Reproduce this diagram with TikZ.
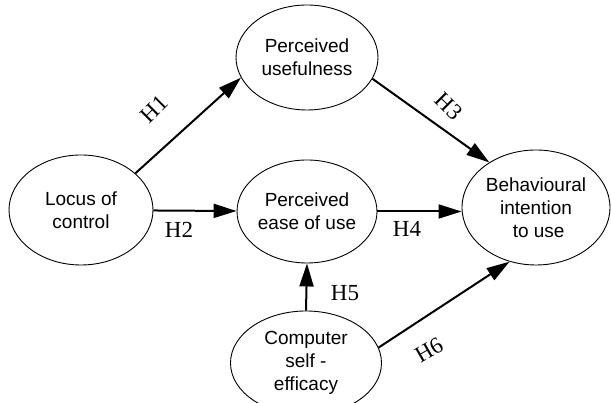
\documentclass[tikz,border=0pt]{standalone}
\usepackage{fontspec}
\setmainfont{Liberation Sans}
\newfontfamily\hfont{Liberation Serif}
\usetikzlibrary{shapes.geometric,arrows.meta}
\begin{document}
\begin{tikzpicture}[x=1pt,y=1pt,
  construct/.style={draw=black,line width=0.9pt,ellipse,inner sep=0pt,align=center,
    font=\fontsize{19}{23}\selectfont},
  path/.style={line width=2pt,-{Triangle[length=23pt,width=14pt]}},
  hlab/.style={font=\hfont\fontsize{23}{23}\selectfont,inner sep=0pt}]
\useasboundingbox (0,0) rectangle (611,403);
\clip (0,0) rectangle (611,403);
\node[construct,minimum width=142pt,minimum height=105pt] (pu) at (307,345.5) {Perceived\\usefulness};
\node[construct,minimum width=144pt,minimum height=110pt] (loc) at (81,193) {Locus of\\control};
\node[construct,minimum width=140pt,minimum height=103pt] (ease) at (307,191.5) {Perceived\\ease of use};
\node[construct,minimum width=148pt,minimum height=115pt] (bi) at (536,195.5) {Behavioural\\intention\\\ to use};
\node[construct,minimum width=151pt,minimum height=104pt] (cse) at (306,40) {Computer\\self -\\efficacy};
\draw[path] (loc.34.4) -- (pu.197.7);
\draw[path] (loc) -- (ease);
\draw[path] (pu.-18.7) -- (bi.136.5);
\draw[path] (ease.east) -- (ease.east -| bi.west);
\draw[path] (cse.north) -- (ease.south);
\draw[path] (cse.12.8) -- (bi.244);
\node[hlab,rotate=45] (h1) at (154,294) {H1};
\node[hlab] (h2) at (179,173) {H2};
\node[hlab,rotate=-45] (h3) at (449,297) {H3};
\node[hlab] (h4) at (407,174.5) {H4};
\node[hlab] (h5) at (345,110) {H5};
\node[hlab,rotate=30] (h6) at (429,53) {H6};
\end{tikzpicture}
\end{document}
